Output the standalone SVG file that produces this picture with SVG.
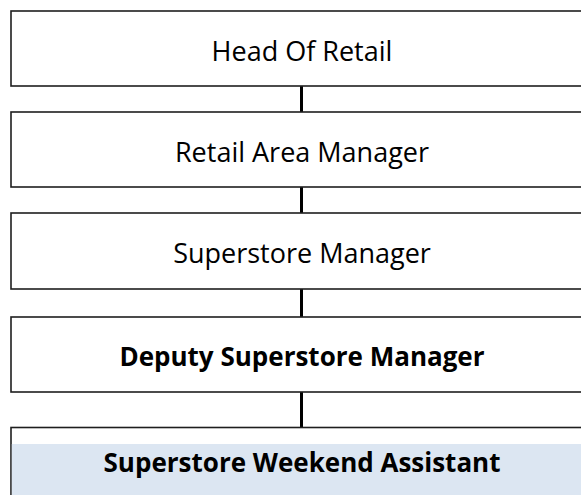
<svg xmlns="http://www.w3.org/2000/svg" width="581" height="495" viewBox="0 0 581 495">
<style>
.box{fill:#ffffff;stroke:#1e1e1e;stroke-width:1.6}
.lbl{font-family:"Open Sans","Noto Sans","Liberation Sans",sans-serif;font-size:27px;fill:#000;text-anchor:middle}
.b{font-weight:bold;font-size:26px}
.con{stroke:#000;stroke-width:3;fill:none}
</style>
<rect x="0" y="0" width="581" height="495" fill="#ffffff"/>
<g id="connectors">
<line class="con" x1="301.5" y1="86" x2="301.5" y2="112"/>
<line class="con" x1="301.5" y1="187" x2="301.5" y2="213"/>
<line class="con" x1="301.5" y1="289" x2="301.5" y2="317"/>
<line class="con" x1="301.5" y1="392" x2="301.5" y2="427"/>
</g>
<g id="head-of-retail">
<rect class="box" x="11" y="11" width="590" height="75"/>
<text class="lbl" x="302" y="60.5">Head Of Retail</text>
</g>
<g id="retail-area-manager">
<rect class="box" x="11" y="112" width="590" height="75"/>
<text class="lbl" x="302" y="161.5">Retail Area Manager</text>
</g>
<g id="superstore-manager">
<rect class="box" x="11" y="213" width="590" height="76"/>
<text class="lbl" x="302" y="263">Superstore Manager</text>
</g>
<g id="deputy-superstore-manager">
<rect class="box" x="11" y="317" width="590" height="75"/>
<text class="lbl b" x="302" y="365.5">Deputy Superstore Manager</text>
</g>
<g id="superstore-weekend-assistant">
<rect class="box" x="11" y="427.5" width="590" height="90"/>
<rect x="11.8" y="444" width="589" height="60" fill="#dce6f2"/>
<text class="lbl b" x="302" y="472">Superstore Weekend Assistant</text>
</g>
</svg>
